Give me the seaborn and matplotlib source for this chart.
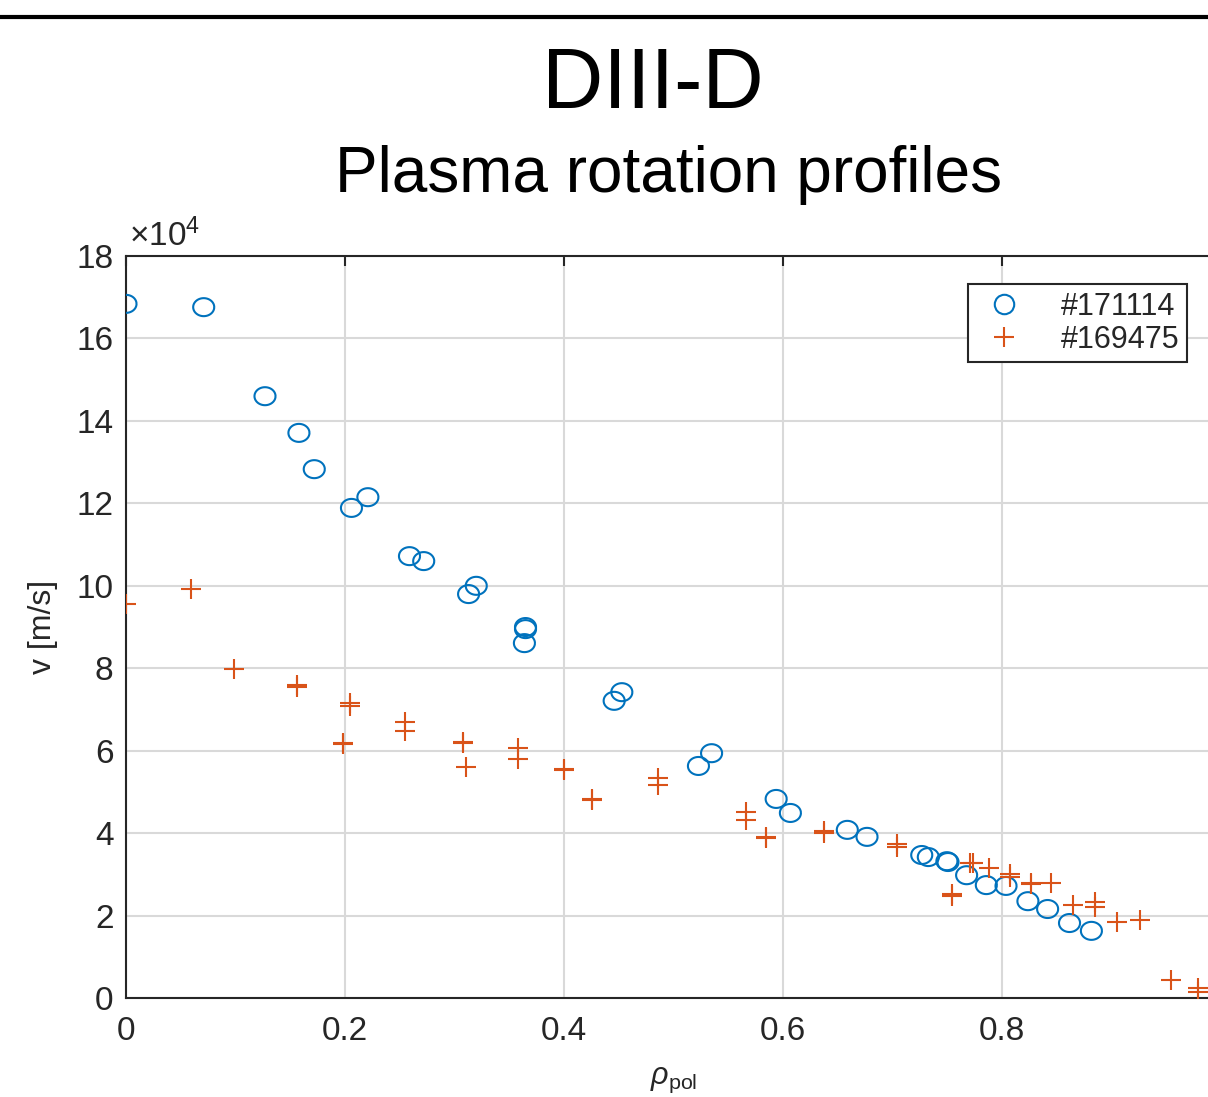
import numpy as np
import matplotlib
matplotlib.use("Agg")
import matplotlib.pyplot as plt
from matplotlib.lines import Line2D
import seaborn as sns


# shot #171114 (blue circles), v in units of 1e4 m/s
rho_171114 = [0.0, 0.071, 0.127, 0.158, 0.172, 0.206, 0.221, 0.259, 0.272, 0.313,
              0.320, 0.365, 0.365, 0.364, 0.446, 0.453, 0.523, 0.535, 0.594, 0.607,
              0.659, 0.677, 0.727, 0.733, 0.750, 0.751, 0.768, 0.786, 0.804, 0.824,
              0.842, 0.862, 0.882]
v_171114 = [16.84, 16.76, 14.60, 13.71, 12.83, 11.89, 12.15, 10.72, 10.60, 9.80,
            10.00, 9.00, 8.95, 8.61, 7.21, 7.42, 5.63, 5.94, 4.83, 4.49,
            4.08, 3.91, 3.47, 3.42, 3.32, 3.30, 2.98, 2.74, 2.72, 2.35,
            2.16, 1.82, 1.63]

# shot #169475 (orange pluses)
rho_169475 = [0.0, 0.059, 0.099, 0.156, 0.156, 0.198, 0.198, 0.205, 0.205, 0.255,
              0.255, 0.308, 0.308, 0.311, 0.358, 0.358, 0.400, 0.400, 0.426, 0.426,
              0.486, 0.486, 0.566, 0.566, 0.585, 0.585, 0.638, 0.638, 0.704, 0.704,
              0.755, 0.755, 0.771, 0.774, 0.788, 0.808, 0.808, 0.827, 0.827, 0.845,
              0.865, 0.885, 0.885, 0.905, 0.926, 0.955, 0.979, 0.979]
v_169475 = [9.56, 9.92, 7.98, 7.59, 7.54, 6.19, 6.16, 7.16, 7.08, 6.70,
            6.48, 6.21, 6.19, 5.60, 6.07, 5.80, 5.56, 5.53, 4.83, 4.80,
            5.34, 5.17, 4.51, 4.32, 3.91, 3.88, 4.05, 4.00, 3.74, 3.66,
            2.52, 2.47, 3.28, 3.28, 3.15, 3.01, 2.94, 2.79, 2.77, 2.79,
            2.26, 2.33, 2.21, 1.84, 1.89, 0.44, 0.24, 0.15]

x_ticks = [0, 0.2, 0.4, 0.6, 0.8]
x_tick_labels = ["0", "0.2", "0.4", "0.6", "0.8"]
y_ticks = [0, 2, 4, 6, 8, 10, 12, 14, 16, 18]

BLUE = "#0072BD"
ORANGE = "#D95319"
AX_COLOR = "#262626"


def main():
	sns.set_theme(style="white")
	plt.rcParams["font.family"] = ["Liberation Sans", "DejaVu Sans"]
	plt.rcParams["mathtext.fontset"] = "custom"
	plt.rcParams["mathtext.rm"] = "Liberation Sans"
	plt.rcParams["mathtext.it"] = "Liberation Sans:italic"

	fig = plt.figure(figsize=(12.08, 10.97), dpi=100)
	ax = fig.add_axes([0.1043, 0.0902, 0.9061, 0.6764])

	# slightly wide ellipse, the source image is stretched horizontally
	t = np.linspace(0, 2 * np.pi, 61)
	ellipse = list(zip(1.17 * np.cos(t), np.sin(t)))

	sns.scatterplot(x=rho_171114, y=v_171114, ax=ax, marker=ellipse, s=230,
					facecolor="none", edgecolor=BLUE, linewidth=1.5, zorder=3)
	sns.scatterplot(x=rho_169475, y=v_169475, ax=ax, marker="+", s=210,
					color=ORANGE, linewidth=1.5, zorder=3)

	ax.set_xlim(0, 1)
	ax.set_ylim(0, 18)
	ax.set_xticks(x_ticks)
	ax.set_xticklabels(x_tick_labels)
	ax.set_yticks(y_ticks)
	ax.grid(True, color="#d9d9d9", linewidth=1.5)
	ax.set_axisbelow(True)
	for side in ax.spines.values():
		side.set_color(AX_COLOR)
		side.set_linewidth(1.5)
	ax.tick_params(direction="in", length=7, width=1.5, colors=AX_COLOR,
				   labelsize=24, top=True, right=True)
	ax.tick_params(axis="x", pad=13)
	ax.tick_params(axis="y", pad=9)

	ax.set_ylabel("v [m/s]", fontsize=23, color=AX_COLOR)
	ax.yaxis.set_label_coords(-0.062, 0.5)
	ax.set_xlabel(r"$\rho_{\rm pol}$", fontsize=22, color=AX_COLOR, va="top")
	ax.xaxis.set_label_coords(0.5, -0.09)
	ax.text(0.003, 1.004, r"$\times10^{4}$", transform=ax.transAxes,
			fontsize=24, color=AX_COLOR, ha="left", va="bottom")

	handles = [
		Line2D([], [], marker="o", linestyle="none", markersize=14,
			   markerfacecolor="none", markeredgecolor=BLUE, markeredgewidth=1.5),
		Line2D([], [], marker="+", linestyle="none", markersize=15,
			   color=ORANGE, markeredgewidth=1.5),
	]
	leg = ax.legend(handles, ["#171114", "#169475"], loc="upper right",
					bbox_to_anchor=(1187 / 1208, 1 - 284 / 1097),
					bbox_transform=fig.transFigure, fontsize=22,
					frameon=True, fancybox=False, framealpha=1,
					edgecolor=AX_COLOR, borderpad=0.25, handlelength=1.9,
					handletextpad=0.9, labelspacing=0.1, borderaxespad=0)
	leg.get_frame().set_linewidth(1.5)

	fig.text(0.54, 1 - 86 / 1097, "DIII-D", fontsize=61, ha="center", va="center",
			 color="black")
	fig.text(0.5535, 1 - 175 / 1097, "Plasma rotation profiles", fontsize=46,
			 ha="center", va="center", color="black")
	fig.add_artist(Line2D([0, 1], [1 - 17 / 1097, 1 - 17 / 1097],
						  transform=fig.transFigure, color="black", linewidth=3))

	fig.savefig("out.png", dpi=100)


if __name__ == "__main__":
	main()
